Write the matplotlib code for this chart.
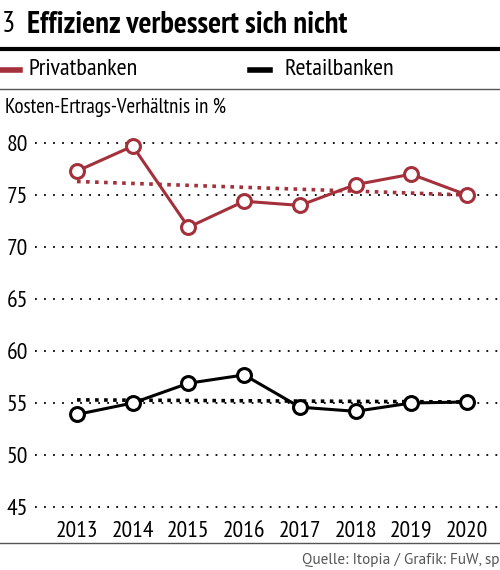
import matplotlib
matplotlib.use("Agg")
import matplotlib.pyplot as plt
from matplotlib.lines import Line2D

years = [2013, 2014, 2015, 2016, 2017, 2018, 2019, 2020]
privat = [77.3, 79.7, 71.9, 74.4, 74.0, 76.0, 77.0, 75.0]
retail = [53.9, 55.0, 56.9, 57.7, 54.6, 54.2, 55.0, 55.1]
privat_trend = [76.3, 75.0]
retail_trend = [55.3, 55.1]
yticks = [45, 50, 55, 60, 65, 70, 75, 80]

RED = '#a3303a'
NARROW = ['PT Sans Narrow', 'Roboto Condensed', 'DejaVu Sans']
REG = ['PT Sans', 'Open Sans', 'DejaVu Sans']

fig = plt.figure(figsize=(5, 5.7), dpi=100)
ax = fig.add_axes([0.07, 0.0965, 0.93, 0.6754])

for y in yticks:
    ax.axhline(y, color='black', lw=1.3, ls=(0, (1, 4)), zorder=1)

ax.plot([years[0], years[-1]], privat_trend, color=RED, lw=2.6, ls=(0, (1, 1.5)), zorder=2)
ax.plot([years[0], years[-1]], retail_trend, color='black', lw=2.6, ls=(0, (1, 1.5)), zorder=2)
ax.plot(years, privat, color=RED, lw=2.2, marker='o', ms=10, mfc='white', mec=RED, mew=2.2, zorder=3)
ax.plot(years, retail, color='black', lw=2.2, marker='o', ms=10, mfc='white', mec='black', mew=2.2, zorder=3)

ax.set_xlim(2012.246, 2020.592)
ax.set_ylim(44.23, 81.25)
ax.set_yticks(yticks)
ax.set_xticks(years)
ax.set_xticklabels([str(y) for y in years])
for s in ax.spines.values():
    s.set_visible(False)
ax.tick_params(length=0, labelsize=17)
ax.tick_params(axis='y', pad=5)
ax.tick_params(axis='x', pad=4)
for lab in ax.get_xticklabels() + ax.get_yticklabels():
    lab.set_family(NARROW)

# header
fig.text(0.004, 1 - 25 / 570, '3', fontsize=21, family=NARROW, va='center')
fig.text(0.054, 1 - 25 / 570, 'Effizienz verbessert sich nicht', fontsize=22,
         fontweight='bold', family=NARROW, va='center')
fig.add_artist(Line2D([0, 1], [1 - 49 / 570] * 2, color='black', lw=3))
fig.add_artist(Line2D([0, 0.04], [1 - 70 / 570] * 2, color=RED, lw=4))
fig.text(0.056, 1 - 70 / 570, 'Privatbanken', fontsize=17.5, family=NARROW, va='center')
fig.add_artist(Line2D([0.5, 0.54], [1 - 70 / 570] * 2, color='black', lw=4))
fig.text(0.57, 1 - 70 / 570, 'Retailbanken', fontsize=17.5, family=NARROW, va='center')
fig.add_artist(Line2D([0, 1], [1 - 89 / 570] * 2, color='#555555', lw=1))
fig.text(0.01, 1 - 107 / 570, 'Kosten-Ertrags-Verhältnis in %', fontsize=15,
         family=NARROW, va='center')

# footer
fig.add_artist(Line2D([0, 1], [1 - 543 / 570] * 2, color='#555555', lw=1))
fig.text(0.998, 1 - 560 / 570, 'Quelle: Itopia / Grafik: FuW, sp', fontsize=11,
         color='#555555', ha='right', va='center', family=REG)

fig.savefig('out.png', dpi=100)
